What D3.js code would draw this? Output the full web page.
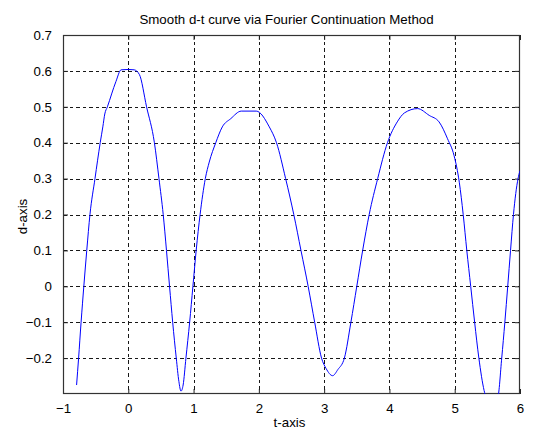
<!DOCTYPE html>
<html>
<head>
<meta charset="utf-8">
<script src="https://cdn.jsdelivr.net/npm/d3@7/dist/d3.min.js"></script>
<style>
  html, body { margin: 0; padding: 0; background: #ffffff; }
  svg { display: block; }
  text { font-family: Arial, "Liberation Sans", Helvetica, sans-serif; fill: #000; }
</style>
</head>
<body>
<svg id="chart" width="533" height="429"></svg>
<script>
const titleText = "Smooth d-t curve via Fourier Continuation Method";
const xLabelText = "t-axis";
const yLabelText = "d-axis";

const xTicks = [-1, 0, 1, 2, 3, 4, 5, 6];
const yTicks = [-0.2, -0.1, 0, 0.1, 0.2, 0.3, 0.4, 0.5, 0.6, 0.7];
const xDomain = [-1, 6];
const yDomain = [-0.3, 0.7];

// curve samples (t, d)
const tValues = [
  -0.792, -0.761, -0.723, -0.681, -0.636, -0.587, -0.51, -0.43, -0.39, -0.36, -0.32, -0.19, -0.11, 0.0, 0.09, 0.17,
  0.28, 0.40, 0.47, 0.535, 0.585, 0.632, 0.68, 0.735, 0.775, 0.807, 0.84, 0.883, 0.94, 0.99, 1.04, 1.10,
  1.18, 1.24, 1.34, 1.44, 1.57, 1.73, 1.96, 2.16, 2.27, 2.41, 2.535, 2.645, 2.755, 2.855, 2.96, 3.03,
  3.13, 3.21, 3.31, 3.41, 3.5, 3.59, 3.69, 3.82, 3.97, 4.12, 4.23, 4.43, 4.61, 4.76, 4.89, 4.99,
  5.07, 5.13, 5.185, 5.245, 5.305, 5.37, 5.45, 5.48, 5.57, 5.66, 5.72, 5.768, 5.812, 5.855, 5.9, 5.97, 6.0
];
const dValues = [
  -0.275, -0.2, -0.1, 0.0, 0.1, 0.2, 0.3, 0.4, 0.444, 0.48, 0.5, 0.57, 0.603, 0.604, 0.603, 0.59,
  0.5, 0.4, 0.3, 0.2, 0.1, 0.0, -0.1, -0.2, -0.265, -0.292, -0.275, -0.2, -0.1, 0.0, 0.1, 0.2,
  0.3, 0.346, 0.4, 0.444, 0.467, 0.488, 0.488, 0.444, 0.4, 0.3, 0.2, 0.1, 0.0, -0.1, -0.2, -0.229,
  -0.249, -0.232, -0.2, -0.1, 0.0, 0.1, 0.2, 0.3, 0.4, 0.458, 0.483, 0.495, 0.476, 0.458, 0.411, 0.364,
  0.29, 0.2, 0.1, 0.0, -0.1, -0.2, -0.29, -0.31, -0.33, -0.31, -0.2, -0.1, 0.0, 0.1, 0.2, 0.3, 0.322
];

const margin = { left: 63, top: 35, right: 13, bottom: 35 };
const W = 533, H = 429;
const pw = W - margin.left - margin.right;   // 457
const ph = H - margin.top - margin.bottom;   // 359

const svg = d3.select("#chart");
const x = d3.scaleLinear().domain(xDomain).range([margin.left, margin.left + pw]);
const y = d3.scaleLinear().domain(yDomain).range([margin.top + ph, margin.top]);

const fmt = d => (Math.abs(d) < 1e-9 ? "0" : d3.format("")(+d.toFixed(1)));

// clip
svg.append("defs").append("clipPath").attr("id", "clip")
  .append("rect").attr("x", margin.left).attr("y", margin.top).attr("width", pw).attr("height", ph);

// grid
const grid = svg.append("g").attr("stroke", "#000").attr("stroke-width", 1)
  .attr("stroke-dasharray", "3.5,3").attr("shape-rendering", "crispEdges").attr("opacity", 0.9);
grid.selectAll("line.gx").data(xTicks.filter(t => t > xDomain[0] && t < xDomain[1])).enter()
  .append("line").attr("x1", d => Math.round(x(d)) + 0.5).attr("x2", d => Math.round(x(d)) + 0.5)
  .attr("y1", margin.top).attr("y2", margin.top + ph);
grid.selectAll("line.gy").data(yTicks.filter(t => t > yDomain[0] + 1e-9 && t < yDomain[1] - 1e-9)).enter()
  .append("line").attr("y1", d => Math.round(y(d)) + 0.5).attr("y2", d => Math.round(y(d)) + 0.5)
  .attr("x1", margin.left).attr("x2", margin.left + pw);

// axes (inner ticks on all four sides)
const tl = 5;
const axB = svg.append("g").attr("transform", `translate(0,${margin.top + ph})`)
  .call(d3.axisBottom(x).tickValues(xTicks).tickSizeInner(-tl).tickSizeOuter(0).tickPadding(10).tickFormat(fmt));
const axT = svg.append("g").attr("transform", `translate(0,${margin.top})`)
  .call(d3.axisTop(x).tickValues(xTicks).tickSizeInner(-tl).tickSizeOuter(0).tickFormat(""));
const axL = svg.append("g").attr("transform", `translate(${margin.left},0)`)
  .call(d3.axisLeft(y).tickValues(yTicks).tickSizeInner(-tl).tickSizeOuter(0).tickPadding(11).tickFormat(fmt));
const axR = svg.append("g").attr("transform", `translate(${margin.left + pw},0)`)
  .call(d3.axisRight(y).tickValues(yTicks).tickSizeInner(-tl).tickSizeOuter(0).tickFormat(""));
[axB, axT, axL, axR].forEach(a => {
  a.selectAll(".domain").remove();
  a.selectAll(".tick line").attr("stroke", "#222");
  a.selectAll("text").style("font-family", "Arial, 'Liberation Sans', sans-serif").style("font-size", "13.3px").attr("fill", "#000");
});

// box
svg.append("rect").attr("x", margin.left + 0.5).attr("y", margin.top + 0.5)
  .attr("width", pw - 1).attr("height", ph - 1).attr("fill", "none").attr("stroke", "#333").attr("stroke-width", 1.2);

// curve
const pts = tValues.map((t, i) => [t, dValues[i]]);
svg.append("path").datum(pts).attr("clip-path", "url(#clip)")
  .attr("fill", "none").attr("stroke", "#0000ff").attr("stroke-width", 1)
  .attr("d", d3.line().x(d => x(d[0])).y(d => y(d[1])).curve(d3.curveMonotoneX));

// title and labels
svg.append("text").attr("x", margin.left + pw / 2 - 5).attr("y", 24).attr("text-anchor", "middle")
  .style("font-size", "13.3px").text(titleText);
svg.append("text").attr("x", margin.left + pw / 2 - 2).attr("y", 427).attr("text-anchor", "middle")
  .style("font-size", "13.3px").text(xLabelText);
svg.append("text").attr("transform", `translate(26.5,${margin.top + ph / 2 + 2}) rotate(-90)`)
  .attr("text-anchor", "middle").style("font-size", "13.3px").text(yLabelText);
</script>
</body>
</html>
